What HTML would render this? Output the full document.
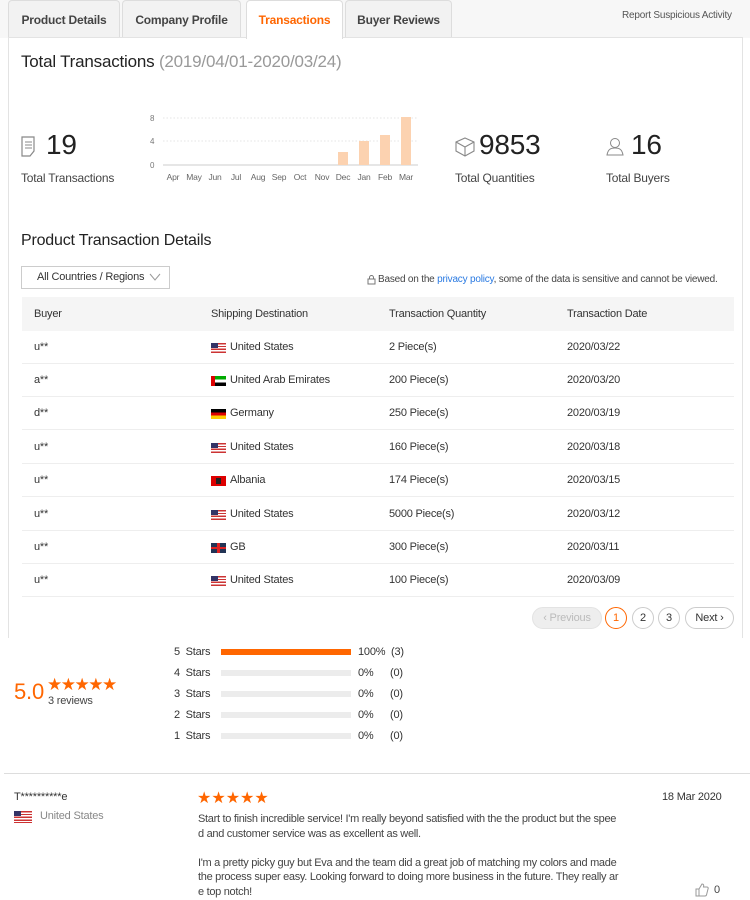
<!DOCTYPE html>
<html><head><meta charset="utf-8"><style>
*{margin:0;padding:0;box-sizing:border-box}
body{width:750px;height:900px;background:#fff;font-family:"Liberation Sans",Arial,sans-serif;color:#333;position:relative;overflow:hidden;letter-spacing:-0.2px}
.a{position:absolute;white-space:nowrap}
.tab{position:absolute;top:0;height:38px;background:#f2f2f2;border:1px solid #ddd;border-bottom:none;border-radius:4px 4px 0 0;font-size:12px;font-weight:bold;color:#444;text-align:center;line-height:38px}
.s{font-size:11px;color:#333}
.row{position:absolute;left:22px;width:712px;height:33px;border-bottom:1px solid #eee}
.flag{position:absolute;width:15px;height:10px}
.us{background:repeating-linear-gradient(#c33 0 1.4px,#fff 1.4px 2.8px)}
.us::before{content:"";position:absolute;left:0;top:0;width:7px;height:5px;background:#336}
.bar{position:absolute;left:221px;width:130px;height:6px;background:#ececec}
.st{color:#f60}
</style></head><body>
<div class="a" style="left:0;top:0;width:750px;height:38px;background:#f7f7f7"></div>
<div class="tab" style="left:8px;width:112px">Product Details</div>
<div class="tab" style="left:122px;width:119px">Company Profile</div>
<div class="tab" style="left:246px;width:97px;background:#fff;color:#f60;height:39px;z-index:2">Transactions</div>
<div class="tab" style="left:345px;width:107px">Buyer Reviews</div>
<div class="a" style="left:622px;top:10px;font-size:10px;color:#555">Report Suspicious Activity</div>
<div class="a" style="left:8px;top:37px;width:735px;height:601px;border:1px solid #e3e3e3;border-bottom:none;background:#fff"></div>
<div class="a" style="left:21px;top:52px;font-size:17px;color:#222">Total Transactions <span style="color:#999">(2019/04/01-2020/03/24)</span></div>

<svg class="a" style="left:20px;top:136px" width="20" height="22" viewBox="0 0 20 22"><path d="M2 1h12v14l-4 5H2z" fill="none" stroke="#888" stroke-width="1.2"/><path d="M5 6h7M5 9h7M5 12h7" stroke="#888"/></svg>
<div class="a" style="left:46px;top:129px;font-size:28px;color:#222">19</div>
<div class="a" style="left:21px;top:171px;font-size:12px;color:#444">Total Transactions</div>

<svg class="a" style="left:140px;top:110px" width="290" height="80">
<g font-size="8" fill="#777" font-family="Liberation Sans"><text x="10" y="11">8</text><text x="10" y="34">4</text><text x="10" y="58">0</text></g>
<g stroke="#e5e5e5" stroke-dasharray="1.5 2"><line x1="23" y1="8" x2="278" y2="8"/><line x1="23" y1="31" x2="278" y2="31"/></g>
<line x1="23" y1="55" x2="278" y2="55" stroke="#ddd" stroke-width="1.5"/>
<g fill="#fcd2b0"><rect x="198" y="42" width="10" height="13"/><rect x="219" y="31" width="10" height="24"/><rect x="240" y="25" width="10" height="30"/><rect x="261" y="7" width="10" height="48"/></g>
<g font-size="8.5" fill="#666" font-family="Liberation Sans" text-anchor="middle">
<text x="33" y="70">Apr</text><text x="54" y="70">May</text><text x="75" y="70">Jun</text><text x="96" y="70">Jul</text><text x="118" y="70">Aug</text><text x="139" y="70">Sep</text><text x="160" y="70">Oct</text><text x="182" y="70">Nov</text><text x="203" y="70">Dec</text><text x="224" y="70">Jan</text><text x="245" y="70">Feb</text><text x="266" y="70">Mar</text></g>
</svg>

<svg class="a" style="left:454px;top:137px" width="22" height="20"><path d="M11 1l9 4v9l-9 5-9-5V5z M2 5l9 5 9-5 M11 10v9" fill="none" stroke="#888" stroke-width="1.1"/></svg>
<div class="a" style="left:479px;top:129px;font-size:28px;color:#222">9853</div>
<div class="a" style="left:455px;top:171px;font-size:12px;color:#444">Total Quantities</div>
<svg class="a" style="left:606px;top:137px" width="22" height="20"><circle cx="9" cy="6" r="4.5" fill="none" stroke="#888"/><path d="M1 18c1-6 4-7 8-7s7 1 8 7z" fill="none" stroke="#888"/></svg>
<div class="a" style="left:631px;top:129px;font-size:28px;color:#222">16</div>
<div class="a" style="left:606px;top:171px;font-size:12px;color:#444">Total Buyers</div>

<div class="a" style="left:21px;top:232px;font-size:16px;color:#222">Product Transaction Details</div>
<div class="a" style="left:21px;top:266px;width:149px;height:23px;border:1px solid #ccc;font-size:11px;line-height:21px;padding-left:15px;color:#333">All Countries / Regions <svg width="12" height="8" style="vertical-align:middle;margin-left:2px"><path d="M1 1l5 6 5-6" fill="none" stroke="#999"/></svg></div>
<svg class="a" style="left:367px;top:275px" width="9" height="10"><rect x="1" y="4" width="7" height="5" fill="none" stroke="#777"/><path d="M2.5 4V2.5a2 2 0 0 1 4 0V4" fill="none" stroke="#777"/></svg>
<div class="a" style="left:378px;top:274px;font-size:10px;color:#444">Based on the <span style="color:#2a7ae2">privacy policy</span>, some of the data is sensitive and cannot be viewed.</div>

<div class="a" style="left:22px;top:297px;width:712px;height:34px;background:#f5f5f5"></div>
<div class="a s" style="left:34px;top:308px">Buyer</div>
<div class="a s" style="left:211px;top:308px">Shipping Destination</div>
<div class="a s" style="left:389px;top:308px">Transaction Quantity</div>
<div class="a s" style="left:567px;top:308px">Transaction Date</div>

<div class="row" style="top:331px"></div><div class="row" style="top:364px"></div><div class="row" style="top:397px"></div><div class="row" style="top:431px"></div><div class="row" style="top:464px"></div><div class="row" style="top:498px"></div><div class="row" style="top:531px"></div><div class="row" style="top:564px"></div>

<div class="a s" style="left:34px;top:341px">u**</div><div class="flag us" style="left:211px;top:343px"></div><div class="a s" style="left:230px;top:341px">United States</div><div class="a s" style="left:389px;top:341px">2 Piece(s)</div><div class="a s" style="left:567px;top:341px">2020/03/22</div>
<div class="a s" style="left:34px;top:374px">a**</div><div class="flag" style="left:211px;top:376px;background:linear-gradient(#0a0 0 33%,#fff 33% 66%,#000 66%)"><div style="width:4px;height:10px;background:#d00"></div></div><div class="a s" style="left:230px;top:374px">United Arab Emirates</div><div class="a s" style="left:389px;top:374px">200 Piece(s)</div><div class="a s" style="left:567px;top:374px">2020/03/20</div>
<div class="a s" style="left:34px;top:407px">d**</div><div class="flag" style="left:211px;top:409px;background:linear-gradient(#000 0 33%,#d00 33% 66%,#fc0 66%)"></div><div class="a s" style="left:230px;top:407px">Germany</div><div class="a s" style="left:389px;top:407px">250 Piece(s)</div><div class="a s" style="left:567px;top:407px">2020/03/19</div>
<div class="a s" style="left:34px;top:441px">u**</div><div class="flag us" style="left:211px;top:443px"></div><div class="a s" style="left:230px;top:441px">United States</div><div class="a s" style="left:389px;top:441px">160 Piece(s)</div><div class="a s" style="left:567px;top:441px">2020/03/18</div>
<div class="a s" style="left:34px;top:474px">u**</div><div class="flag" style="left:211px;top:476px;background:#d00"><div style="margin:2px 5px;width:5px;height:6px;background:#222"></div></div><div class="a s" style="left:230px;top:474px">Albania</div><div class="a s" style="left:389px;top:474px">174 Piece(s)</div><div class="a s" style="left:567px;top:474px">2020/03/15</div>
<div class="a s" style="left:34px;top:508px">u**</div><div class="flag us" style="left:211px;top:510px"></div><div class="a s" style="left:230px;top:508px">United States</div><div class="a s" style="left:389px;top:508px">5000 Piece(s)</div><div class="a s" style="left:567px;top:508px">2020/03/12</div>
<div class="a s" style="left:34px;top:541px">u**</div><div class="flag" style="left:211px;top:543px;background:#235"><div style="position:absolute;left:6px;top:0;width:3px;height:10px;background:#d22"></div><div style="position:absolute;left:0;top:4px;width:15px;height:2px;background:#d22"></div></div><div class="a s" style="left:230px;top:541px">GB</div><div class="a s" style="left:389px;top:541px">300 Piece(s)</div><div class="a s" style="left:567px;top:541px">2020/03/11</div>
<div class="a s" style="left:34px;top:574px">u**</div><div class="flag us" style="left:211px;top:576px"></div><div class="a s" style="left:230px;top:574px">United States</div><div class="a s" style="left:389px;top:574px">100 Piece(s)</div><div class="a s" style="left:567px;top:574px">2020/03/09</div>

<div class="a" style="left:532px;top:607px;width:70px;height:22px;border-radius:11px;background:#eee;border:1px solid #e3e3e3;color:#bbb;font-size:11px;line-height:20px;text-align:center">‹ Previous</div>
<div class="a" style="left:605px;top:607px;width:22px;height:22px;border-radius:11px;border:1px solid #f60;color:#f60;font-size:11px;line-height:20px;text-align:center">1</div>
<div class="a" style="left:632px;top:607px;width:22px;height:22px;border-radius:11px;border:1px solid #ccc;font-size:11px;line-height:20px;text-align:center">2</div>
<div class="a" style="left:658px;top:607px;width:22px;height:22px;border-radius:11px;border:1px solid #ccc;font-size:11px;line-height:20px;text-align:center">3</div>
<div class="a" style="left:685px;top:607px;width:49px;height:22px;border-radius:11px;border:1px solid #ccc;font-size:11px;line-height:20px;text-align:center">Next ›</div>

<div class="a" style="left:14px;top:679px;font-size:22px;color:#f60">5.0</div>
<div class="a st" style="left:47px;top:675px;font-size:17px;letter-spacing:-1.5px">★★★★★</div>
<div class="a" style="left:48px;top:695px;font-size:11px;color:#444">3 reviews</div>
<div class="a s" style="left:174px;top:646px">5&nbsp; Stars</div><div class="bar" style="top:649px;background:#f60"></div><div class="a s" style="left:358px;top:646px">100%&nbsp; (3)</div>
<div class="a s" style="left:174px;top:667px">4&nbsp; Stars</div><div class="bar" style="top:670px"></div><div class="a s" style="left:358px;top:667px">0%</div><div class="a s" style="left:390px;top:667px">(0)</div>
<div class="a s" style="left:174px;top:688px">3&nbsp; Stars</div><div class="bar" style="top:691px"></div><div class="a s" style="left:358px;top:688px">0%</div><div class="a s" style="left:390px;top:688px">(0)</div>
<div class="a s" style="left:174px;top:709px">2&nbsp; Stars</div><div class="bar" style="top:712px"></div><div class="a s" style="left:358px;top:709px">0%</div><div class="a s" style="left:390px;top:709px">(0)</div>
<div class="a s" style="left:174px;top:730px">1&nbsp; Stars</div><div class="bar" style="top:733px"></div><div class="a s" style="left:358px;top:730px">0%</div><div class="a s" style="left:390px;top:730px">(0)</div>

<div class="a" style="left:4px;top:773px;width:746px;height:1px;background:#ddd"></div>
<div class="a s" style="left:14px;top:791px">T**********e</div>
<div class="flag us" style="left:14px;top:811px;width:18px;height:12px"></div>
<div class="a" style="left:40px;top:810px;font-size:11px;color:#888">United States</div>
<div class="a st" style="left:197px;top:788px;font-size:16px;letter-spacing:0">★★★★★</div>
<div class="a s" style="left:662px;top:791px">18 Mar 2020</div>
<div class="a" style="left:198px;top:812px;font-size:11px;line-height:14.5px;color:#444;letter-spacing:-0.3px">Start to finish incredible service! I'm really beyond satisfied with the the product but the spee<br>d and customer service was as excellent as well.<br><br>I'm a pretty picky guy but Eva and the team did a great job of matching my colors and made<br>the process super easy. Looking forward to doing more business in the future. They really ar<br>e top notch!</div>
<svg class="a" style="left:695px;top:883px" width="14" height="14"><path d="M1 6h3v7H1z M4 6l3-5c1.5 0 2 1 1.5 3H12c1 0 1.5 1 1 2l-1.5 6c-.3.7-.8 1-1.5 1H4" fill="none" stroke="#999"/></svg>
<div class="a" style="left:714px;top:884px;font-size:11px;color:#444">0</div>
</body></html>
